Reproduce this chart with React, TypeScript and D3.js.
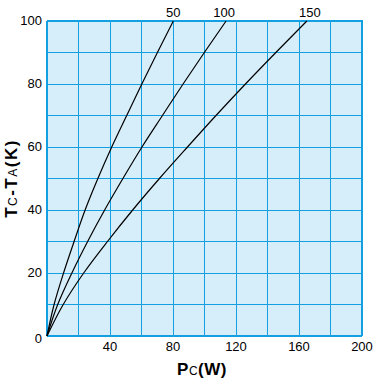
import React from "react";
import * as d3 from "d3";

const tempRise = [0, 10, 20, 30, 40, 50, 60, 70, 80, 90, 100];
const power50 = [0, 4.5, 10.5, 17.2, 24.2, 32.3, 41.1, 50.6, 60.2, 70.1, 80.2];
const power100 = [0, 6.8, 15.8, 25.8, 36.6, 48.2, 60.3, 73.3, 86.4, 99.9, 113.7];
const power150 = [0, 10.3, 23.3, 38.4, 54.4, 71.4, 89.2, 107.3, 126, 145.3, 165];
const seriesNames = ["50", "100", "150"];
const xTickLabels = [40, 80, 120, 160, 200];
const yTickLabels = [0, 20, 40, 60, 80, 100];

const W = 378;
const H = 383;
const left = 47;
const right = 362;
const top = 21;
const bottom = 336;

export default function App() {
  const x = d3.scaleLinear().domain([0, 200]).range([left, right]);
  const y = d3.scaleLinear().domain([0, 100]).range([bottom, top]);
  const grid = "#12a0e3";
  const bg = "#d6eefa";
  const font = "'Liberation Sans', Arial, sans-serif";
  const series = [power50, power100, power150];
  const line = d3
    .line<number>()
    .x((d) => x(d))
    .y((_, i) => y(tempRise[i]))
    .curve(d3.curveMonotoneY);
  const labelDx = [0, -2, 3];

  return (
    <svg
      width={W}
      height={H}
      style={{ position: "absolute", left: 0, top: 0, background: "#fff" }}
    >
      <rect x={left} y={top} width={right - left} height={bottom - top} fill={bg} />
      {d3.range(20, 200, 20).map((v) => (
        <line key={"gx" + v} x1={x(v)} x2={x(v)} y1={top} y2={bottom} stroke={grid} strokeWidth={1} shapeRendering="crispEdges" />
      ))}
      {d3.range(10, 100, 10).map((v) => (
        <line key={"gy" + v} x1={left} x2={right} y1={y(v)} y2={y(v)} stroke={grid} strokeWidth={1} shapeRendering="crispEdges" />
      ))}
      <line x1={right} x2={right} y1={top} y2={bottom} stroke={grid} strokeWidth={1.5} shapeRendering="crispEdges" />
      <line x1={left} x2={right} y1={bottom} y2={bottom} stroke={grid} strokeWidth={1.5} shapeRendering="crispEdges" />
      <line x1={left - 0.5} x2={right + 0.5} y1={top} y2={top} stroke={grid} strokeWidth={2} shapeRendering="crispEdges" />
      <line x1={left} x2={left} y1={top} y2={bottom} stroke={grid} strokeWidth={2.5} shapeRendering="crispEdges" />

      {series.map((s, i) => (
        <path key={"s" + i} d={line(s) || ""} fill="none" stroke="#000" strokeWidth={1.2} />
      ))}
      {series.map((s, i) => (
        <text
          key={"l" + i}
          x={x(s[s.length - 1]) + labelDx[i]}
          y={17}
          textAnchor="middle"
          fontFamily={font}
          fontSize={13}
          fill="#000"
        >
          {seriesNames[i]}
        </text>
      ))}

      {xTickLabels.map((v) => (
        <text key={"xt" + v} x={x(v)} y={351} textAnchor="middle" fontFamily={font} fontSize={13} fill="#000">
          {v}
        </text>
      ))}
      {yTickLabels.map((v) => (
        <text key={"yt" + v} x={42} y={y(v) + (v === 0 ? 6.5 : 4)} textAnchor="end" fontFamily={font} fontSize={13} fill="#000">
          {v}
        </text>
      ))}

      <text x={202} y={375} textAnchor="middle" fontFamily={font} fontSize={17} fill="#000" letterSpacing={0.5}>
        <tspan fontWeight="bold">P</tspan>
        <tspan fontSize={12}>C</tspan>
        <tspan fontWeight="bold">(W)</tspan>
      </text>
      <text
        transform={`translate(17,${(top + bottom) / 2}) rotate(-90)`}
        textAnchor="middle"
        fontFamily={font}
        fontSize={17}
        fill="#000"
        letterSpacing={1.5}
      >
        <tspan fontWeight="bold">T</tspan>
        <tspan fontSize={12}>C</tspan>
        <tspan fontWeight="bold">-T</tspan>
        <tspan fontSize={12}>A</tspan>
        <tspan fontWeight="bold">(K)</tspan>
      </text>
    </svg>
  );
}
